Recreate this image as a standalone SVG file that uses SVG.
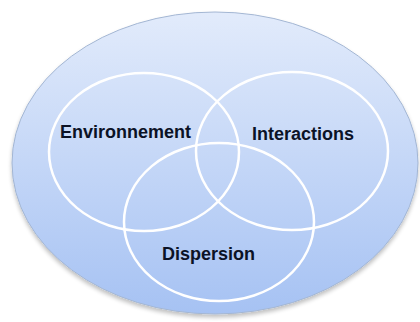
<svg xmlns="http://www.w3.org/2000/svg" width="420" height="322" viewBox="0 0 420 322">
<defs>
<linearGradient id="bg" x1="0" y1="0" x2="0" y2="1">
<stop offset="0" stop-color="#e2ebfb"/>
<stop offset="1" stop-color="#a6c2f3"/>
</linearGradient>
<filter id="sh" x="-10%" y="-10%" width="120%" height="125%">
<feGaussianBlur in="SourceAlpha" stdDeviation="2"/>
<feOffset dy="3"/>
<feComponentTransfer><feFuncA type="linear" slope="0.25"/></feComponentTransfer>
<feMerge><feMergeNode/><feMergeNode in="SourceGraphic"/></feMerge>
</filter>
</defs>
<style>
.ring{fill:none;stroke:#ffffff;stroke-width:2.5}
.lbl{font-family:"Liberation Sans",Arial,sans-serif;font-weight:bold;font-size:18px;fill:#0b1226}
</style>
<rect width="420" height="322" fill="#ffffff"/>
<g id="outer">
<ellipse cx="215" cy="163" rx="203" ry="151" fill="url(#bg)" stroke="#a3b6d3" stroke-width="1" filter="url(#sh)"/>
</g>
<g id="environnement">
<ellipse class="ring" cx="144" cy="152" rx="95" ry="79"/>
<text class="lbl" x="60" y="138">Environnement</text>
</g>
<g id="interactions">
<ellipse class="ring" cx="292" cy="151" rx="96" ry="79"/>
<text class="lbl" x="252" y="140">Interactions</text>
</g>
<g id="dispersion">
<ellipse class="ring" cx="219" cy="222" rx="95" ry="79"/>
<text class="lbl" x="162" y="260">Dispersion</text>
</g>
<g id="connectors"/>
</svg>
